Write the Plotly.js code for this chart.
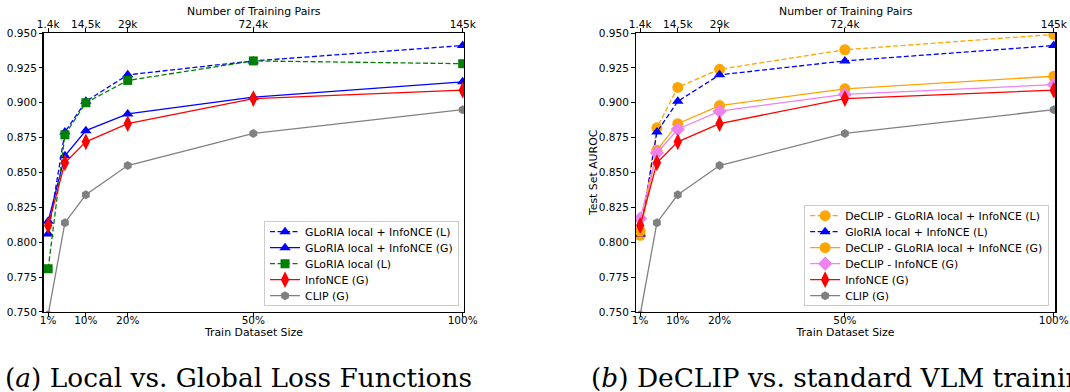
<!DOCTYPE html>
<html>
<head>
<meta charset="utf-8">
<script src="https://cdn.plot.ly/plotly-3.0.1.min.js"></script>
<style>html,body{margin:0;padding:0;background:#fff;}#chart{width:1070px;height:392px;}</style>
</head>
<body>
<div id="chart"></div>
<script>
// ---- data ----
const trainPct = [1, 5, 10, 20, 50, 100];
const tickPct = [1, 10, 20, 50, 100];
const tickPctLabels = ["1%", "10%", "20%", "50%", "100%"];
const tickPairsLabels = ["1.4k", "14.5k", "29k", "72.4k", "145k"];
const yTicks = [0.750, 0.775, 0.800, 0.825, 0.850, 0.875, 0.900, 0.925, 0.950];

const gloriaInfoL = [0.806, 0.879, 0.901, 0.920, 0.930, 0.941];
const gloriaInfoG = [0.815, 0.862, 0.880, 0.892, 0.904, 0.915];
const gloriaLocalL = [0.781, 0.877, 0.900, 0.916, 0.930, 0.928];
const infoNCEG = [0.812, 0.857, 0.872, 0.885, 0.903, 0.909];
const clipG = [0.748, 0.814, 0.834, 0.855, 0.878, 0.895];
const declipGloriaL = [0.805, 0.882, 0.911, 0.924, 0.938, 0.949];
const declipGloriaG = [0.808, 0.866, 0.885, 0.898, 0.910, 0.919];
const declipInfoG = [0.817, 0.864, 0.881, 0.894, 0.906, 0.913];

const leftNames = ["GLoRIA local + InfoNCE (L)", "GLoRIA local + InfoNCE (G)", "GLoRIA local (L)", "InfoNCE (G)", "CLIP (G)"];
const rightNames = ["DeCLIP - GLoRIA local + InfoNCE (L)", "GloRIA local + InfoNCE (L)", "DeCLIP - GLoRIA local + InfoNCE (G)", "DeCLIP - InfoNCE (G)", "InfoNCE (G)", "CLIP (G)"];
const topTitle = "Number of Training Pairs";
const bottomTitle = "Train Dataset Size";
const yTitle = "Test Set AUROC";
const captionA = "(<i>a</i>) Local vs. Global Loss Functions";
const captionB = "(<i>b</i>) DeCLIP vs. standard VLM training";

// ---- styles ----
const DASH = "5px,2.5px";
const S = {
  blueDash: {color: "#0000ff", dash: DASH, symbol: "triangle-up", size: 10},
  blue: {color: "#0000ff", dash: "solid", symbol: "triangle-up", size: 10},
  green: {color: "#008000", dash: DASH, symbol: "square", size: 9},
  red: {color: "#ff0000", dash: "solid", symbol: "diamond-tall", size: 12},
  gray: {color: "#808080", dash: "solid", symbol: "hexagon", size: 9},
  orangeDash: {color: "#ffa500", dash: DASH, symbol: "circle", size: 11},
  orange: {color: "#ffa500", dash: "solid", symbol: "circle", size: 11},
  violet: {color: "#ee82ee", dash: "solid", symbol: "diamond", size: 11}
};

function tr(y, name, st, xa, ya, legend) {
  return {
    x: trainPct, y: y, name: name, type: "scatter", mode: "lines+markers",
    xaxis: xa, yaxis: ya, legend: legend, cliponaxis: true,
    line: {color: st.color, dash: st.dash, width: 1.3},
    marker: {color: st.color, symbol: st.symbol, size: st.size, line: {width: 0}}
  };
}

const data = [
  tr(gloriaInfoL, leftNames[0], S.blueDash, "x", "y", "legend"),
  tr(gloriaInfoG, leftNames[1], S.blue, "x", "y", "legend"),
  tr(gloriaLocalL, leftNames[2], S.green, "x", "y", "legend"),
  tr(infoNCEG, leftNames[3], S.red, "x", "y", "legend"),
  tr(clipG, leftNames[4], S.gray, "x", "y", "legend"),
  tr(declipGloriaL, rightNames[0], S.orangeDash, "x3", "y2", "legend2"),
  tr(gloriaInfoL, rightNames[1], S.blueDash, "x3", "y2", "legend2"),
  tr(declipGloriaG, rightNames[2], S.orange, "x3", "y2", "legend2"),
  tr(declipInfoG, rightNames[3], S.violet, "x3", "y2", "legend2"),
  tr(infoNCEG, rightNames[4], S.red, "x3", "y2", "legend2"),
  tr(clipG, rightNames[5], S.gray, "x3", "y2", "legend2"),
  // invisible helpers for the top axes
  {x: tickPct, y: [null, null, null, null, null], xaxis: "x2", yaxis: "y", showlegend: false, hoverinfo: "skip", mode: "markers", type: "scatter"},
  {x: tickPct, y: [null, null, null, null, null], xaxis: "x4", yaxis: "y2", showlegend: false, hoverinfo: "skip", mode: "markers", type: "scatter"}
];

const F = "DejaVu Sans, sans-serif";
const TICK = 10.5, LAB = 10.9;
const xr = [0.0, 100.3];
const yr = [0.75, 0.95];
const dY = [0.2041, 0.9158];
const dL = [0.0411, 0.4336];
const dR = [0.5944, 0.9860];

function bottomAxis(domain, anchor) {
  return {
    domain: domain, anchor: anchor, range: xr, tickmode: "array", tickvals: tickPct, ticktext: tickPctLabels,
    showgrid: false, zeroline: false, showline: true, linecolor: "#000", linewidth: 1.5,
    ticks: "outside", ticklen: 3.5, tickwidth: 1, tickcolor: "#000", ticklabelstandoff: -6, ticklabeloverflow: "allow",
    tickfont: {family: F, size: TICK, color: "#000"},
    title: {text: bottomTitle, font: {family: F, size: LAB, color: "#000"}, standoff: 0}
  };
}
function topAxis(over, anchor) {
  return {
    overlaying: over, anchor: anchor, side: "top", range: xr, tickmode: "array", tickvals: tickPct, ticktext: tickPairsLabels,
    showgrid: false, zeroline: false, showline: true, linecolor: "#000", linewidth: 1.5,
    ticks: "outside", ticklen: 3.5, tickwidth: 1, tickcolor: "#000", ticklabelstandoff: -4, ticklabeloverflow: "allow",
    tickfont: {family: F, size: TICK, color: "#000"}
  };
}
function yAxis(anchor) {
  return {
    domain: dY, anchor: anchor, range: yr, tickmode: "array", tickvals: yTicks, tickformat: ".3f",
    showgrid: false, zeroline: false, showline: true, mirror: true, linecolor: "#000", linewidth: 1.5,
    ticks: "outside", ticklen: 3.5, tickwidth: 1, tickcolor: "#000",
    tickfont: {family: F, size: TICK, color: "#000"}
  };
}

const legendStyle = {
  bgcolor: "rgba(255,255,255,0.85)", bordercolor: "#cccccc", borderwidth: 1,
  font: {family: F, size: LAB, color: "#000"}, xanchor: "right", yanchor: "bottom",
  tracegroupgap: 0, itemwidth: 30
};

const txt = {family: F, size: LAB, color: "#000"};
const layout = {
  width: 1070, height: 392, margin: {l: 0, r: 0, t: 0, b: 0},
  paper_bgcolor: "#fff", plot_bgcolor: "#fff", showlegend: true,
  xaxis: bottomAxis(dL, "y"),
  xaxis2: topAxis("x", "y"),
  xaxis3: bottomAxis(dR, "y2"),
  xaxis4: topAxis("x3", "y2"),
  yaxis: yAxis("x"),
  yaxis2: yAxis("x3"),
  legend: Object.assign({}, legendStyle, {x: 0.429, y: 0.219}),
  legend2: Object.assign({}, legendStyle, {x: 0.9805, y: 0.219}),
  annotations: [
    {text: topTitle, xref: "paper", yref: "paper", x: 0.2374, y: 0.9705, xanchor: "center", yanchor: "middle", showarrow: false, font: txt},
    {text: topTitle, xref: "paper", yref: "paper", x: 0.7902, y: 0.9705, xanchor: "center", yanchor: "middle", showarrow: false, font: txt},
    {text: yTitle, xref: "paper", yref: "paper", x: 0.5542, y: 0.561, xanchor: "center", yanchor: "middle", textangle: -90, showarrow: false, font: txt},
    {text: captionA, xref: "paper", yref: "paper", x: 0.2230, y: 0.038, xanchor: "center", yanchor: "middle", showarrow: false,
     font: {family: "DejaVu Serif, serif", size: 26.4, color: "#000"}},
    {text: captionB, xref: "paper", yref: "paper", x: 0.5505, y: 0.038, xanchor: "left", yanchor: "middle", showarrow: false,
     font: {family: "DejaVu Serif, serif", size: 26.4, color: "#000"}}
  ]
};

// tighten legend rows to matplotlib-like spacing (16px per entry), keeping the legend's bottom edge fixed
function parseT(el) {
  const m = /translate\(\s*([-\d.e]+)[ ,]+([-\d.e]+)\s*\)/.exec(el.getAttribute("transform") || "");
  return m ? [parseFloat(m[1]), parseFloat(m[2])] : null;
}
function tightenLegends() {
  const STEP = 16, PAD = 10;
  document.querySelectorAll("#chart g.legend, #chart g.legend2").forEach(function (lg) {
    if (lg.getAttribute("data-tight")) return;
    const traces = Array.prototype.slice.call(lg.querySelectorAll("g.traces"));
    const bg = lg.querySelector("rect.bg");
    const n = traces.length;
    if (!n || !bg) return;
    const bgY = parseFloat(bg.getAttribute("y")) || 0;
    const oldH = parseFloat(bg.getAttribute("height"));
    const newH = PAD * 2 + (n - 1) * STEP;
    traces.forEach(function (t, i) {
      const p = parseT(t);
      if (p) t.setAttribute("transform", "translate(" + p[0] + "," + (bgY + PAD + i * STEP) + ")");
    });
    bg.setAttribute("height", newH);
    const lp = parseT(lg);
    if (lp) lg.setAttribute("transform", "translate(" + lp[0] + "," + (lp[1] + oldH - newH) + ")");
    lg.setAttribute("data-tight", "1");
  });
}

Plotly.newPlot("chart", data, layout, {staticPlot: true, displayModeBar: false}).then(tightenLegends);
</script>
</body>
</html>
